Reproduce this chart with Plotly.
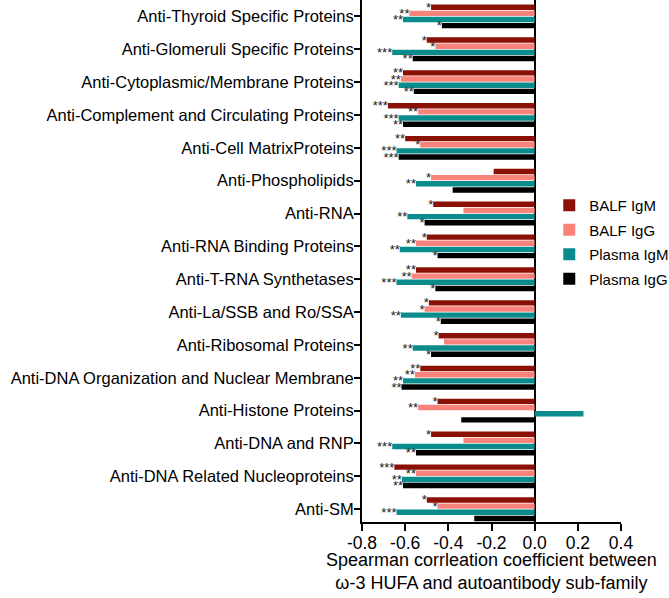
import plotly.graph_objects as go

categories = [
    "Anti-Thyroid Specific Proteins",
    "Anti-Glomeruli Specific Proteins",
    "Anti-Cytoplasmic/Membrane Proteins",
    "Anti-Complement and Circulating Proteins",
    "Anti-Cell MatrixProteins",
    "Anti-Phospholipids",
    "Anti-RNA",
    "Anti-RNA Binding Proteins",
    "Anti-T-RNA Synthetases",
    "Anti-La/SSB and Ro/SSA",
    "Anti-Ribosomal Proteins",
    "Anti-DNA Organization and Nuclear Membrane",
    "Anti-Histone Proteins",
    "Anti-DNA and RNP",
    "Anti-DNA Related Nucleoproteins",
    "Anti-SM",
]

balf_igm = [-0.48, -0.50, -0.61, -0.68, -0.60, -0.19, -0.47, -0.50, -0.55, -0.49, -0.445, -0.53, -0.45, -0.48, -0.65, -0.50]
balf_igg = [-0.58, -0.46, -0.62, -0.54, -0.53, -0.48, -0.33, -0.55, -0.57, -0.51, -0.42, -0.555, -0.54, -0.33, -0.55, -0.45]
plasma_igm = [-0.61, -0.66, -0.63, -0.63, -0.64, -0.55, -0.59, -0.625, -0.64, -0.62, -0.565, -0.61, 0.226, -0.66, -0.615, -0.64]
plasma_igg = [-0.43, -0.565, -0.56, -0.61, -0.63, -0.38, -0.51, -0.45, -0.46, -0.435, -0.48, -0.617, -0.34, -0.55, -0.61, -0.28]

sig_balf_igm = ["*", "*", "**", "***", "**", "", "*", "*", "**", "*", "*", "**", "*", "*", "***", "*"]
sig_balf_igg = ["**", "*", "**", "**", "*", "*", "", "**", "**", "*", "", "**", "**", "", "**", "*"]
sig_plasma_igm = ["**", "***", "***", "***", "***", "**", "**", "**", "***", "**", "**", "**", "", "***", "**", "***"]
sig_plasma_igg = ["*", "**", "**", "**", "***", "", "*", "*", "*", "*", "*", "**", "", "**", "**", ""]

series_names = ["BALF IgM", "BALF IgG", "Plasma IgM", "Plasma IgG"]
series_colors = ["#8B1006", "#F8837A", "#0A8C8C", "#000000"]

xtick_vals = [-0.8, -0.6, -0.4, -0.2, 0.0, 0.2, 0.4]
xtick_text = ["-0.8", "-0.6", "-0.4", "-0.2", "0.0", "0.2", "0.4"]

x_title = "Spearman corrleation coefficient between<br>\u03c9-3 HUFA and autoantibody sub-family"

values = [balf_igm, balf_igg, plasma_igm, plasma_igg]
sigs = [sig_balf_igm, sig_balf_igg, sig_plasma_igm, sig_plasma_igg]

fig = go.Figure()
for i, (name, col, vals, sg) in enumerate(zip(series_names, series_colors, values, sigs)):
    fig.add_trace(go.Bar(
        y=categories, x=vals, orientation="h", name=name,
        legendgroup="g%d" % i,
        marker=dict(color=col, line=dict(width=0)),
        text=sg,
        textposition="outside",
        constraintext="none",
        textfont=dict(size=13, color="#1a1a1a", family="Liberation Sans, Arial"),
        cliponaxis=False,
    ))

fig.update_layout(
    width=669, height=598,
    margin=dict(l=362, r=48, t=0, b=76, autoexpand=False),
    barmode="group", bargap=0.25, bargroupgap=0.12,
    plot_bgcolor="white", paper_bgcolor="white",
    font=dict(family="Liberation Sans, Arial", color="black"),
    showlegend=True,
    legend=dict(x=0.723, y=0.638, xanchor="left", yanchor="top",
                font=dict(size=15, color="black"), tracegroupgap=2,
                bgcolor="rgba(0,0,0,0)"),
    annotations=[dict(text=x_title, xref="paper", yref="paper", x=0.5, y=0,
                      xanchor="center", yanchor="top", yshift=-26, showarrow=False,
                      font=dict(size=18, color="black"))],
)
fig.update_xaxes(
    range=[-0.8, 0.4], tickvals=xtick_vals, ticktext=xtick_text,
    ticks="outside", ticklen=7, tickwidth=2, tickcolor="black",
    ticklabelstandoff=-3,
    showline=True, linewidth=2, linecolor="black", mirror=False,
    showgrid=False, zeroline=True, zerolinecolor="black", zerolinewidth=1.5,
    tickfont=dict(size=17.5, color="black"), automargin=False,
)
fig.update_yaxes(
    range=[15.39, -0.5], ticks="outside", ticklen=6, tickwidth=2, tickcolor="black",
    ticklabelstandoff=-3,
    showline=True, linewidth=2, linecolor="black", showgrid=False,
    tickfont=dict(size=16.5, color="black"), automargin=False,
)
fig.write_html("out.html", config={"displayModeBar": False},
               post_script="document.body.style.margin='0';")
